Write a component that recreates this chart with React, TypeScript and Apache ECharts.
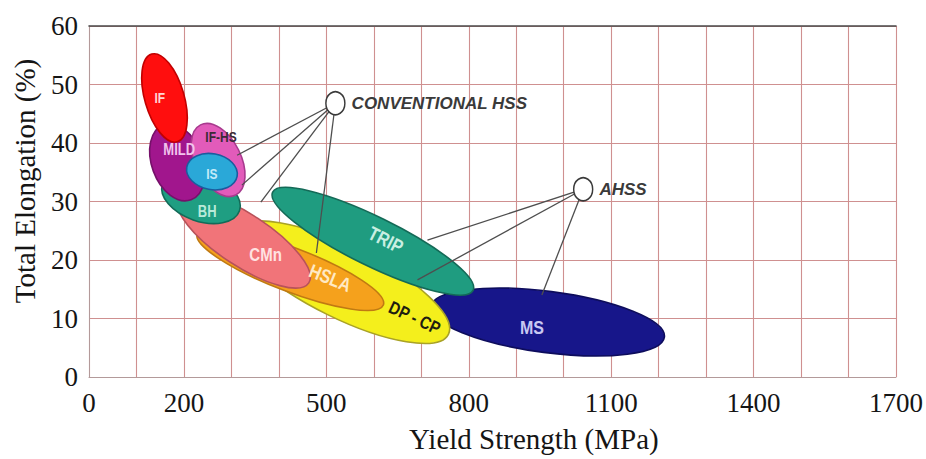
import React, { useEffect, useRef } from 'react';
import * as echarts from 'echarts';

// Axis tick labels
const xTickLabels = [0, 200, 500, 800, 1100, 1400, 1700];
const yTickLabels = [0, 10, 20, 30, 40, 50, 60];

// Steel grades (drawn in this order, last on top)
const grades = ['MS', 'DP - CP', 'TRIP', 'HSLA', 'CMn', 'BH', 'MILD', 'IF-HS', 'IS', 'IF'];
// Ellipse centre (yield strength MPa, elongation %)
const centerYS = [966, 535, 598, 424, 326, 236, 186, 272, 259, 159];
const centerEl = [9.4, 16.2, 23.2, 18.4, 23.4, 30.7, 36.7, 37.1, 35.1, 47.7];
// One end of the major axis (yield strength MPa, elongation %)
const endYS = [1212, 757, 809, 620, 463, 317, 215, 309, 312, 186];
const endEl = [6.8, 7.3, 14.8, 12.3, 16.1, 28.4, 30.3, 31.1, 34.3, 40.2];
// Minor / major axis ratio
const axisRatio = [0.26, 0.305, 0.22, 0.22, 0.333, 0.585, 0.64, 0.58, 0.7, 0.43];
// Label anchor (yield strength MPa, elongation %)
const labelYS = [933, 686, 625, 508, 372, 249, 190, 278, 259, 149];
const labelEl = [8.5, 10.1, 23.4, 16.9, 20.8, 28.2, 38.8, 41.0, 34.7, 47.6];

// Group annotations
const groupNames = ['CONVENTIONAL HSS', 'AHSS'];
const groupYS = [519, 1041];
const groupEl = [46.8, 32.1];
// Leader lines: group index and target point
const leaderGroup = [0, 0, 0, 0, 1, 1, 1];
const leaderYS = [312, 322, 362, 479, 713, 692, 954];
const leaderEl = [37.9, 32.8, 29.9, 21.2, 23.4, 16.6, 14.0];

// Styles
const gradeStyle: Record<string, { fill: string; stroke: string; text: string; size: number; rotate: number }> = {
  'MS': { fill: '#17168a', stroke: '#0d0c5c', text: '#c8c8f2', size: 16, rotate: 0 },
  'DP - CP': { fill: '#f4ef1c', stroke: '#a9a227', text: '#1e1e10', size: 15, rotate: 25 },
  'TRIP': { fill: '#1f9c80', stroke: '#146a57', text: '#c9efe2', size: 16, rotate: 27 },
  'HSLA': { fill: '#f5a11c', stroke: '#c07a12', text: '#ffe9c4', size: 16, rotate: 22 },
  'CMn': { fill: '#f17479', stroke: '#b8525a', text: '#ffe2e2', size: 15, rotate: 0 },
  'BH': { fill: '#1f9e82', stroke: '#136b58', text: '#b8ead9', size: 13, rotate: 0 },
  'MILD': { fill: '#a1168d', stroke: '#76106a', text: '#f2c4ec', size: 13, rotate: 0 },
  'IF-HS': { fill: '#e25bba', stroke: '#a83a8e', text: '#3a2a36', size: 12, rotate: 0 },
  'IS': { fill: '#2aa8d8', stroke: '#1b5c9e', text: '#c4ebf8', size: 12, rotate: 0 },
  'IF': { fill: '#ff0e0e', stroke: '#c20000', text: '#ffd6d6', size: 12, rotate: 0 },
};
const gridColor = '#cf9090';
const serif = '"Liberation Serif", "Times New Roman", serif';
const sans = '"Liberation Sans", Arial, sans-serif';

export default function App() {
  const ref = useRef<HTMLDivElement>(null);

  useEffect(() => {
    if (!ref.current) return;
    const chart = echarts.init(ref.current, null, { renderer: 'svg' });

    const ellipseData = grades.map((g, i) => [centerYS[i], centerEl[i], endYS[i], endEl[i], axisRatio[i]]);
    const labelData = grades.map((g, i) => [labelYS[i], labelEl[i]]);
    const leaderData = leaderGroup.map((gi, i) => [groupYS[gi], groupEl[gi], leaderYS[i], leaderEl[i]]);
    const groupData = groupNames.map((n, i) => ({ name: n, value: [groupYS[i], groupEl[i]] }));

    const option: any = {
      animation: false,
      grid: { left: 89, right: 24, top: 26, bottom: 82 },
      xAxis: [
        {
          type: 'value', min: 0, max: 1700, interval: 100, position: 'bottom',
          axisLine: { show: true, lineStyle: { color: '#b39a9a', width: 1 } },
          axisTick: { show: false },
          axisLabel: {
            showMinLabel: true, showMaxLabel: true,
            formatter: (v: number) => (xTickLabels.indexOf(v) >= 0 ? String(v) : ''),
            fontFamily: serif, fontSize: 27, color: '#151515', margin: 12,
          },
          splitLine: { show: true, lineStyle: { color: gridColor, width: 1.1 } },
        },
        {
          type: 'value', min: 0, max: 1700, interval: 100, position: 'top',
          axisLine: { show: true, lineStyle: { color: '#4a4a4a', width: 1.6 } },
          axisTick: { show: false }, axisLabel: { show: false }, splitLine: { show: false },
        },
      ],
      yAxis: {
        type: 'value', min: 0, max: 60, interval: 10,
        axisLine: { show: true, lineStyle: { color: '#b39a9a', width: 1 } },
        axisTick: { show: false },
        axisLabel: {
          formatter: (v: number) => (yTickLabels.indexOf(v) >= 0 ? String(v) : ''),
          fontFamily: serif, fontSize: 27, color: '#151515', margin: 11,
        },
        splitLine: { show: true, lineStyle: { color: gridColor, width: 1.1 } },
      },
      graphic: [
        {
          type: 'text', left: 409, top: 424,
          style: { text: 'Yield Strength (MPa)', font: `29px ${serif}`, fill: '#151515' },
        },
        {
          type: 'text', x: 25, y: 181, rotation: Math.PI / 2,
          style: {
            text: 'Total Elongation (%)', font: `29px ${serif}`, fill: '#151515',
            textAlign: 'center', textVerticalAlign: 'middle', align: 'center', verticalAlign: 'middle',
          },
        },
      ],
      series: [
        {
          type: 'custom',
          name: 'Steel grades',
          data: ellipseData,
          encode: { x: [0, 2], y: [1, 3] },
          renderItem: (params: any, api: any) => {
            const st = gradeStyle[grades[params.dataIndex]];
            const c = api.coord([api.value(0), api.value(1)]);
            const e = api.coord([api.value(2), api.value(3)]);
            const dx = e[0] - c[0];
            const dy = e[1] - c[1];
            const a = Math.hypot(dx, dy);
            const b = a * api.value(4);
            const ang = Math.atan2(dy, dx);
            return {
              type: 'ellipse', x: c[0], y: c[1], rotation: -ang,
              shape: { cx: 0, cy: 0, rx: a, ry: b },
              style: { fill: st.fill, stroke: st.stroke, lineWidth: 1.6 },
            };
          },
          z: 2,
        },
        {
          type: 'custom',
          name: 'Grade labels',
          data: labelData,
          encode: { x: 0, y: 1 },
          renderItem: (params: any, api: any) => {
            const g = grades[params.dataIndex];
            const st = gradeStyle[g];
            const p = api.coord([api.value(0), api.value(1)]);
            return {
              type: 'text', x: p[0], y: p[1], rotation: -st.rotate * Math.PI / 180,
              scaleY: 1.2,
              style: {
                text: g, fill: st.text, font: `bold ${st.size}px ${sans}`,
                textAlign: 'center', textVerticalAlign: 'middle', align: 'center', verticalAlign: 'middle',
              },
            };
          },
          z: 3,
        },
        {
          type: 'custom',
          name: 'Leaders',
          data: leaderData,
          encode: { x: [0, 2], y: [1, 3] },
          renderItem: (params: any, api: any) => {
            const p1 = api.coord([api.value(0), api.value(1)]);
            const p2 = api.coord([api.value(2), api.value(3)]);
            return {
              type: 'line',
              shape: { x1: p1[0], y1: p1[1], x2: p2[0], y2: p2[1] },
              style: { stroke: '#4e4e4e', lineWidth: 1.3 },
            };
          },
          z: 4,
        },
        {
          type: 'scatter',
          name: 'Groups',
          data: groupData,
          symbol: 'circle',
          symbolSize: [19, 23],
          itemStyle: { color: '#ffffff', borderColor: '#3a3a3a', borderWidth: 1.6, opacity: 1 },
          label: {
            show: true, position: 'right', distance: 6,
            formatter: (p: any) => p.name,
            fontFamily: sans, fontWeight: 'bold', fontStyle: 'italic', fontSize: 17, color: '#3a3a3a',
          },
          z: 5,
        },
      ],
    };

    chart.setOption(option);
    return () => chart.dispose();
  }, []);

  return (
    <div
      ref={ref}
      style={{ position: 'fixed', left: 0, top: 0, width: 926, height: 459, background: '#ffffff' }}
    />
  );
}
